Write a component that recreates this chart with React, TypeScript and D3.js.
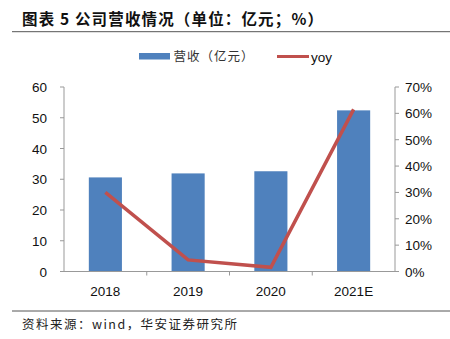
import React from "react";
import * as d3 from "d3";

const categories = ["2018", "2019", "2020", "2021E"];
const revenue = [30.6, 31.9, 32.6, 52.4];
const yoy = [30.0, 4.4, 1.6, 61.5];
const leftTicks = [0, 10, 20, 30, 40, 50, 60];
const rightTicks = [0, 10, 20, 30, 40, 50, 60, 70];

const W = 450;
const H = 339;
const left = 64;
const right = 395;
const top = 87;
const bottom = 271.5;

export default function App() {
  const x = d3.scaleBand<string>().domain(categories).range([left, right]).paddingInner(0.6).paddingOuter(0.3);
  const xb = d3.scaleBand<string>().domain(categories).range([left, right]);
  const yL = d3.scaleLinear().domain([0, 60]).range([bottom, top]);
  const yR = d3.scaleLinear().domain([0, 70]).range([bottom, top]);
  const line = d3
    .line<number>()
    .x((_, i) => (xb(categories[i]) as number) + xb.bandwidth() / 2)
    .y((d) => yR(d));
  const font = "'Liberation Sans', Arial, sans-serif";
  const cjk = "'Noto Sans CJK SC', sans-serif";
  const axisColor = "#999";
  return (
    <svg width={W} height={H} style={{ position: "absolute", left: 0, top: 0, background: "#fff" }}>
      <text x={22} y={25} fontFamily={cjk} fontWeight="bold" fontSize={15.5} fill="#111" textLength={301} lengthAdjust="spacing">
        图表 5 公司营收情况（单位：亿元；%）
      </text>
      <line x1={12} x2={450} y1={31.7} y2={31.7} stroke="#555" strokeWidth={1} />

      {/* legend */}
      <rect x={139} y={53} width={31} height={6.5} fill="#4F81BD" />
      <text x={173.5} y={61} fontFamily={cjk} fontSize={12.5} fill="#333" textLength={80} lengthAdjust="spacing">营收（亿元）</text>
      <line x1={277} x2={309} y1={56.5} y2={56.5} stroke="#C0504D" strokeWidth={3} />
      <text x={311} y={61.5} fontFamily={font} fontSize={13.5} fill="#111">yoy</text>

      {/* bars */}
      {categories.map((c, i) => (
        <rect
          key={c}
          x={x(c)}
          y={yL(revenue[i])}
          width={x.bandwidth()}
          height={bottom - yL(revenue[i])}
          fill="#4F81BD"
        />
      ))}

      {/* left axis */}
      <line x1={left} x2={left} y1={top} y2={bottom} stroke={axisColor} />
      {leftTicks.map((t) => (
        <g key={"l" + t}>
          <line x1={left - 4} x2={left} y1={yL(t)} y2={yL(t)} stroke={axisColor} />
          <text x={47} y={yL(t) + 5} textAnchor="end" fontFamily={font} fontSize={13.5} fill="#111">
            {t}
          </text>
        </g>
      ))}

      {/* right axis */}
      <line x1={right} x2={right} y1={top} y2={bottom} stroke={axisColor} />
      {rightTicks.map((t) => (
        <g key={"r" + t}>
          <line x1={right} x2={right + 4} y1={yR(t)} y2={yR(t)} stroke={axisColor} />
          <text x={405} y={yR(t) + 5} textAnchor="start" fontFamily={font} fontSize={13.5} fill="#111">
            {t}%
          </text>
        </g>
      ))}

      {/* bottom axis */}
      <line x1={left - 4} x2={right} y1={bottom} y2={bottom} stroke={axisColor} />
      {categories.slice(1).map((c) => (
        <line key={"t" + c} x1={xb(c)} x2={xb(c)} y1={bottom} y2={bottom + 4} stroke={axisColor} />
      ))}
      {categories.map((c) => (
        <text
          key={"x" + c}
          x={(xb(c) as number) + xb.bandwidth() / 2}
          y={296}
          textAnchor="middle"
          fontFamily={font}
          fontSize={13.5}
          fill="#111"
        >
          {c}
        </text>
      ))}

      {/* yoy line */}
      <path d={line(yoy) || ""} fill="none" stroke="#C0504D" strokeWidth={3.5} />

      <line x1={12} x2={450} y1={311} y2={311} stroke="#555" strokeWidth={1} />
      <text x={22} y={329} fontFamily={cjk} fontSize={12.5} fill="#222" textLength={215} lengthAdjust="spacing">
        资料来源：wind，华安证券研究所
      </text>
    </svg>
  );
}
